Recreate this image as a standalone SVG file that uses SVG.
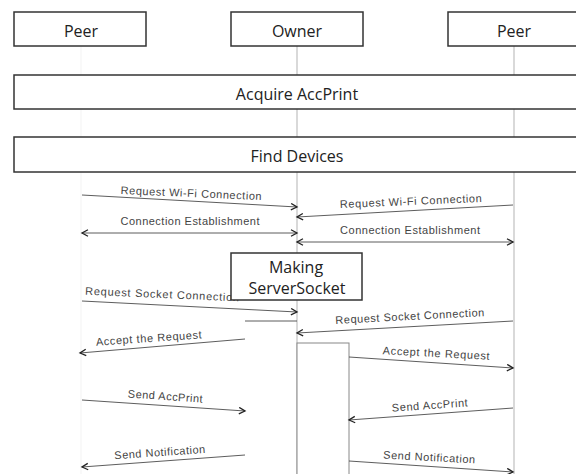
<svg xmlns="http://www.w3.org/2000/svg" width="576" height="474" viewBox="0 0 576 474">
  <defs>
    <style>
      .box { fill: #fff; stroke: #333; stroke-width: 1.5; }
      .act { fill: #fff; stroke: #888; stroke-width: 1; }
      .title { font-family: "Open Sans", "Noto Sans", sans-serif; font-size: 16px; fill: #222; text-anchor: middle; }
      .life { stroke: #aaa; stroke-width: 0.9; fill: none; }
      .life-faint { stroke: #f2f2f2; stroke-width: 0.9; fill: none; }
      .msg { stroke: #333; stroke-width: 0.8; fill: none; }
      .lbl { font-family: "Liberation Sans", "DejaVu Sans", sans-serif; font-size: 11px; fill: #444; text-anchor: middle; }
    </style>
    <marker id="arr" markerUnits="userSpaceOnUse" markerWidth="9" markerHeight="9" refX="7" refY="4" orient="auto-start-reverse" viewBox="0 0 9 9">
      <path d="M1,0.8 L7,4 L1,7.2" fill="none" stroke="#222" stroke-width="1.3"/>
    </marker>
  </defs>
  <rect width="576" height="474" fill="#fff"/>

  <g id="lifelines">
    <line class="life-faint" x1="81" y1="46" x2="81" y2="474"/>
    <line class="life" x1="297" y1="46" x2="297" y2="474"/>
    <line class="life" x1="514" y1="46" x2="514" y2="474"/>
  </g>

  <g id="peer-left">
    <rect class="box" x="14" y="12" width="132" height="34"/>
    <text class="title" x="81" y="37">Peer</text>
  </g>
  <g id="owner">
    <rect class="box" x="231" y="12" width="132" height="34"/>
    <text class="title" x="297" y="37">Owner</text>
  </g>
  <g id="peer-right">
    <rect class="box" x="448" y="12" width="132" height="34"/>
    <text class="title" x="514" y="37">Peer</text>
  </g>

  <g id="acquire-accprint">
    <rect class="box" x="14" y="75" width="566" height="34"/>
    <text class="title" x="297" y="100">Acquire AccPrint</text>
  </g>
  <g id="find-devices">
    <rect class="box" x="14" y="137" width="566" height="35"/>
    <text class="title" x="297" y="162">Find Devices</text>
  </g>

  <g id="activation">
    <rect class="act" x="297" y="343" width="52" height="140"/>
  </g>

  <g id="connectors">
    <line class="msg" x1="82" y1="195" x2="297" y2="207" marker-end="url(#arr)"/>
    <line class="msg" x1="82" y1="233" x2="297" y2="233" marker-start="url(#arr)" marker-end="url(#arr)"/>
    <line class="msg" x1="513" y1="205" x2="297" y2="217" marker-end="url(#arr)"/>
    <line class="msg" x1="297" y1="242" x2="513" y2="242" marker-start="url(#arr)" marker-end="url(#arr)"/>
    <line class="msg" x1="82" y1="301" x2="297" y2="312" marker-end="url(#arr)"/>
    <line class="msg" x1="245" y1="321" x2="297" y2="321"/>
    <line class="msg" x1="513" y1="321" x2="297" y2="333" marker-end="url(#arr)"/>
    <line class="msg" x1="245" y1="339" x2="80" y2="353" marker-end="url(#arr)"/>
    <line class="msg" x1="349" y1="357" x2="513" y2="368" marker-end="url(#arr)"/>
    <line class="msg" x1="82" y1="400" x2="245" y2="411" marker-end="url(#arr)"/>
    <line class="msg" x1="513" y1="408" x2="349" y2="420" marker-end="url(#arr)"/>
    <line class="msg" x1="245" y1="455" x2="82" y2="467" marker-end="url(#arr)"/>
    <line class="msg" x1="349" y1="461" x2="513" y2="472" marker-end="url(#arr)"/>
  </g>

  <g id="labels">
    <text class="lbl" x="191" y="197" textLength="141" lengthAdjust="spacing" transform="rotate(2.5 191 197)">Request Wi-Fi Connection</text>
    <text class="lbl" x="190" y="225" textLength="139" lengthAdjust="spacing">Connection Establishment</text>
    <text class="lbl" x="411" y="205" textLength="142" lengthAdjust="spacing" transform="rotate(-2.5 411 205)">Request Wi-Fi Connection</text>
    <text class="lbl" x="410" y="234" textLength="140" lengthAdjust="spacing">Connection Establishment</text>
    <text class="lbl" x="162" y="298" textLength="154" lengthAdjust="spacing" transform="rotate(2.5 162 298)">Request Socket Connection</text>
    <text class="lbl" x="410" y="320" textLength="149" lengthAdjust="spacing" transform="rotate(-3 410 320)">Request Socket Connection</text>
    <text class="lbl" x="149" y="342" textLength="106" lengthAdjust="spacing" transform="rotate(-4 149 342)">Accept the Request</text>
    <text class="lbl" x="436" y="357" textLength="107" lengthAdjust="spacing" transform="rotate(3 436 357)">Accept the Request</text>
    <text class="lbl" x="165" y="400" textLength="75" lengthAdjust="spacing" transform="rotate(4 165 400)">Send AccPrint</text>
    <text class="lbl" x="430" y="409" textLength="76" lengthAdjust="spacing" transform="rotate(-4 430 409)">Send AccPrint</text>
    <text class="lbl" x="160" y="456" textLength="91" lengthAdjust="spacing" transform="rotate(-4 160 456)">Send Notification</text>
    <text class="lbl" x="429" y="461" textLength="92" lengthAdjust="spacing" transform="rotate(3 429 461)">Send Notification</text>
  </g>

  <g id="making-serversocket">
    <rect class="box" x="231" y="253" width="131" height="47"/>
    <text class="title" x="296" y="273">Making</text>
    <text class="title" x="297" y="294">ServerSocket</text>
  </g>
</svg>
